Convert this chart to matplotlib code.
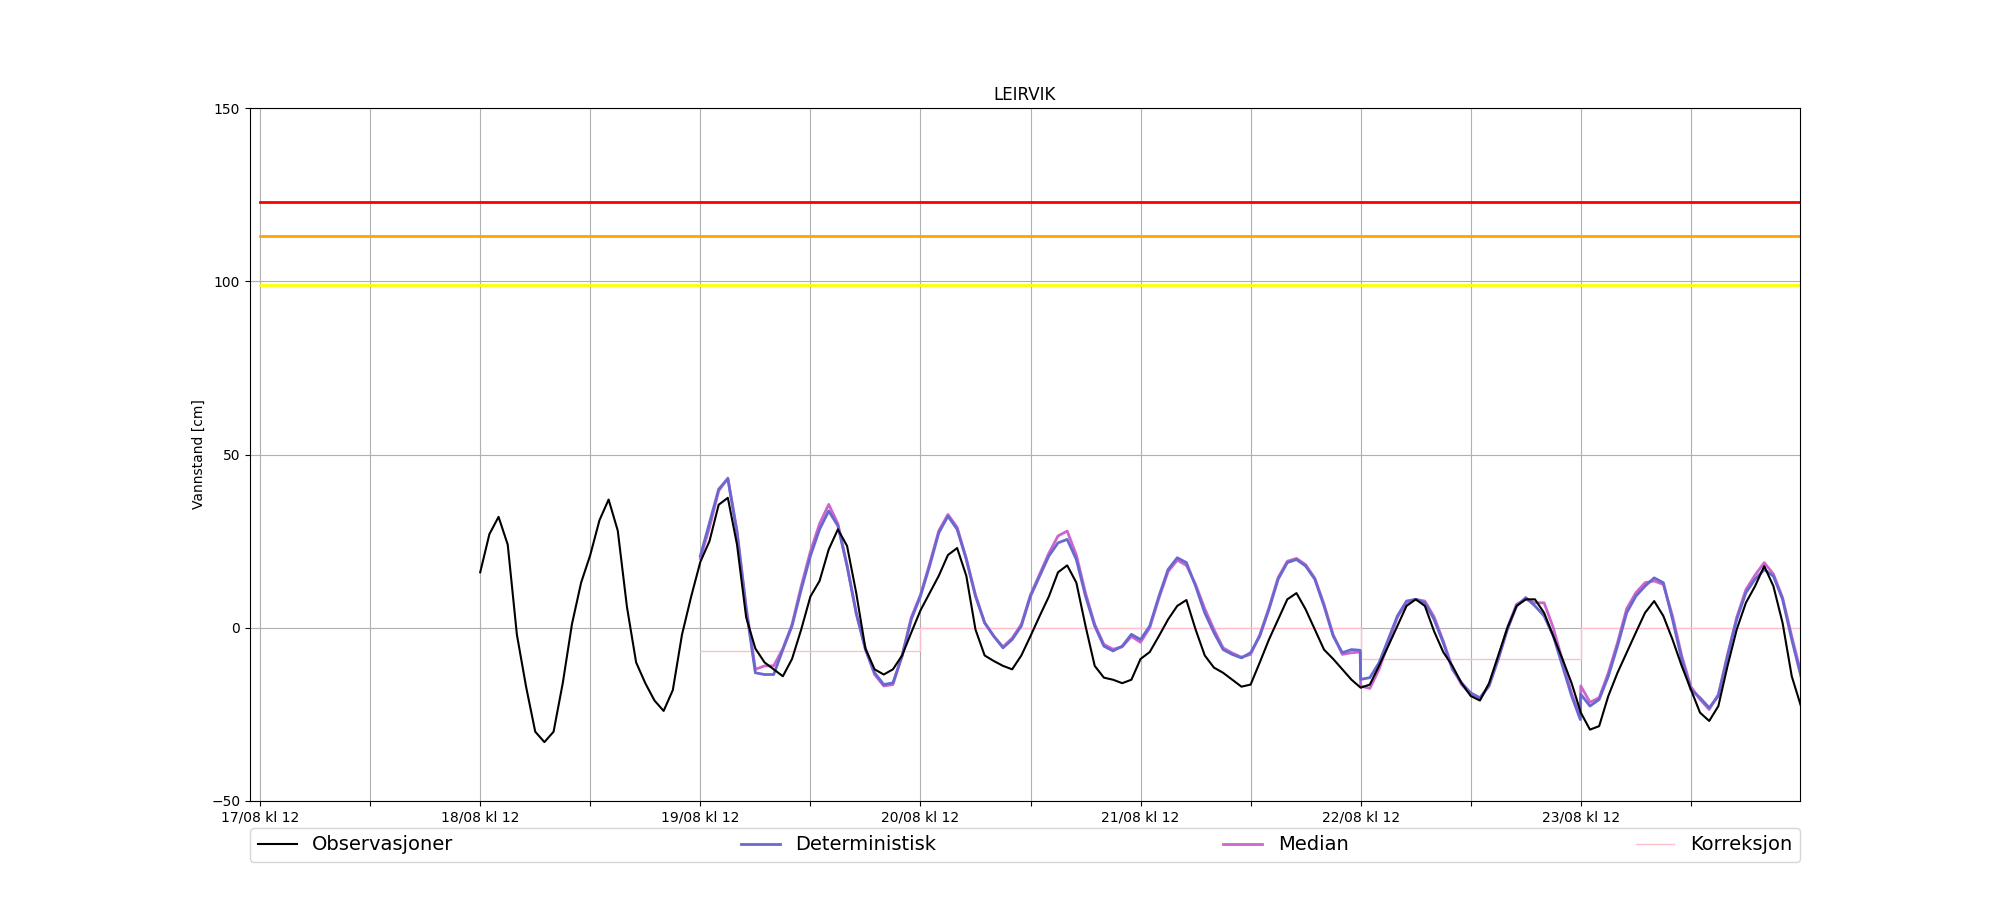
# -*- coding: utf-8 -*-
# Vannstand LEIRVIK - observasjoner, prognoser og varselgrenser

import numpy as np
import pandas as pd
import matplotlib
matplotlib.use("Agg")
import matplotlib.pyplot as plt
import matplotlib.dates as mdates

# start of the observation series
start = pd.Timestamp("2023-08-18 12:00")

# observations, one value per hour from 18/08 kl 12 to 24/08 kl 12
obs_values = [16, 27, 32, 24, -2, -17, -30, -33, -30, -16, 1, 13, 21, 31, 37,
              28, 6, -10, -16, -21, -24, -18, -2, 9, 19, 25, 35.5, 37.5, 24, 3,
              -6, -10, -12, -14, -9, -0.5, 9, 13.5, 22.6, 28.4, 23.6, 10, -6,
              -12, -13.5, -12, -8, -1.4, 5, 10, 15, 21, 23, 15, -0.5, -8,
              -9.6, -11, -12, -8, -2.4, 3.4, 9, 16, 18, 13, 0.5, -11, -14.4,
              -15, -16, -15, -9, -7, -2.4, 2.4, 6.3, 8, -0.5, -8, -11.5, -13,
              -15, -17, -16.4, -10, -3.4, 2.4, 8.2, 10, 5.3, -0.5, -6.3, -9,
              -12, -15, -17.3, -16.4, -11, -5.3, 0.5, 6.3, 8.2, 6.3, -1, -7,
              -11, -16, -19.7, -21, -16, -8, 0, 6.3, 8.2, 8.2, 4.3, -2.4, -9,
              -16, -24.5, -29.4, -28.4, -19.7, -13, -7.2, -1.4, 4.3, 7.7, 3.4,
              -3.4, -11, -17.8, -24.5, -26.9, -22.6, -11, -0.5, 7.2, 12, 17.8,
              12, 1.4, -14, -22.6]
obs_hours = np.arange(len(obs_values))

# forecast hours (new forecast runs at 22/08 kl 12 and 23/08 kl 12)
fc_hours = np.r_[np.arange(24, 96), 95.95, np.arange(96, 120), 119.95,
                 np.arange(120, 145)]

det_values = [20.7, 30.3, 40, 43, 27.4, 5.3, -13, -13.5, -13.5, -6.3, 0.5,
              11, 20.7, 28.4, 33.7, 29.4, 17.8, 4.3, -6.3, -13, -16.4, -15.9,
              -8.2, 2.4, 9.1, 17.8, 27.4, 32.2, 28.4, 19.7, 9.1, 1.4, -2.4,
              -5.8, -3.4, 0.5, 9.1, 14.9, 20.7, 24.5, 25.5, 19.7, 9.1, 0.5,
              -5.3, -6.7, -5.3, -1.9, -3.4, 0.5, 9.1, 16.8, 20.2, 18.8, 12,
              4.3, -1.4, -6.3, -7.7, -8.7, -7.2, -2.4, 5.3, 14, 18.8, 19.7,
              17.8, 14, 6.3, -2.4, -7.2, -6.3, -6.5,
              -14.9, -14.4, -10.1, -3.4, 3.4, 7.7, 8.2, 7.2, 2.4, -4.3, -12,
              -15.9, -18.8, -20.2, -16.8, -9.1, -0.5, 6.3, 8.7, 6.3, 3.4,
              -2.4, -11, -19.7, -26.5,
              -19.2, -22.6, -20.7, -14, -5.3, 4.3, 9.1, 12, 14.4, 13, 2.4,
              -9.1, -17.8, -20.2, -23.1, -19.7, -8.2, 2.4, 10.1, 14, 16.8,
              14.9, 8.2, -3.4, -14]

median_values = [20, 29, 39.5, 43.2, 28, 6, -12, -11, -11, -6, 1, 12, 22, 30,
                 35.6, 30, 18, 4, -6, -13.5, -16.8, -16.4, -8, 3, 9.5, 18.5,
                 28, 32.7, 29, 20, 9.5, 1.5, -2.5, -5.5, -3, 1, 9.5, 15.5,
                 21.5, 26.5, 27.9, 21, 10, 1, -4.8, -6.2, -5.5, -2.5, -4.2, 0,
                 8.5, 16.2, 19.5, 18, 12.5, 5.5, -0.5, -5.8, -7.3, -8.5, -7.7,
                 -2, 5.8, 14.5, 19.2, 20, 18.2, 14.3, 6.8, -2, -7.7, -7.2, -7.0,
                 -16.8, -17.5, -12, -4.5, 3, 7.2, 8.2, 7.7, 3.2, -3.8, -11.5,
                 -16.4, -19.2, -20.7, -16.4, -8.7, 0, 6.8, 8.2, 7.2, 7.2, 0,
                 -9.5, -19, -25.5,
                 -16.8, -21.5, -20.2, -13, -4.3, 5.5, 10.1, 13, 13.5, 12.5,
                 3.4, -8, -17, -20.7, -23.6, -19.2, -7.7, 3, 11, 15.2, 18.8,
                 15.5, 8.7, -2.5, -13]

# correction applied to each forecast run
corr_hours = [24, 48, 96, 120, 144]
corr_values = [-6.7, 0, -8.9, 0, 0]

# warning levels, drawn from 17/08 kl 12 to 24/08 kl 12
level_hours = [-24, 144]
level_red = 123
level_orange = 113
level_yellow = 99


def to_time(hours):
    return start + pd.to_timedelta(np.asarray(hours, dtype=float), unit="h")


fig, ax = plt.subplots(figsize=(20, 9), dpi=100)

lvl_t = to_time(level_hours)
ax.plot(lvl_t, [level_red] * 2, color="red", lw=2)
ax.plot(lvl_t, [level_orange] * 2, color="orange", lw=2)
ax.plot(lvl_t, [level_yellow] * 2, color="yellow", lw=2)

l_corr, = ax.step(to_time(corr_hours), corr_values, where="post",
                  color="pink", lw=1, label="Korreksjon")
l_med, = ax.plot(to_time(fc_hours), median_values, color="#cc66cc", lw=2,
                 label="Median")
l_det, = ax.plot(to_time(fc_hours), det_values, color="#6868d0", lw=2,
                 label="Deterministisk")
l_obs, = ax.plot(to_time(obs_hours), obs_values, color="black", lw=1.5,
                 label="Observasjoner")

ax.set_ylim(-50, 150)
ax.set_yticks([-50, 0, 50, 100, 150])
ax.set_xlim(to_time([-25.1])[0], to_time([143.9])[0])

ax.xaxis.set_major_locator(mdates.HourLocator(byhour=[12]))
ax.xaxis.set_minor_locator(mdates.HourLocator(byhour=[0]))
ax.xaxis.set_major_formatter(mdates.DateFormatter("%d/%m kl %H"))
ax.tick_params(axis="x", which="minor", length=3.5, width=0.8)
ax.grid(True, which="both")

ax.set_title("LEIRVIK")
ax.set_ylabel("Vannstand [cm]")

ax.legend([l_obs, l_det, l_med, l_corr],
          ["Observasjoner", "Deterministisk", "Median", "Korreksjon"],
          loc="upper left", bbox_to_anchor=(0, -0.0385, 1, 0), ncol=4,
          mode="expand", borderaxespad=0, fontsize=14)

plt.savefig("out.png")
